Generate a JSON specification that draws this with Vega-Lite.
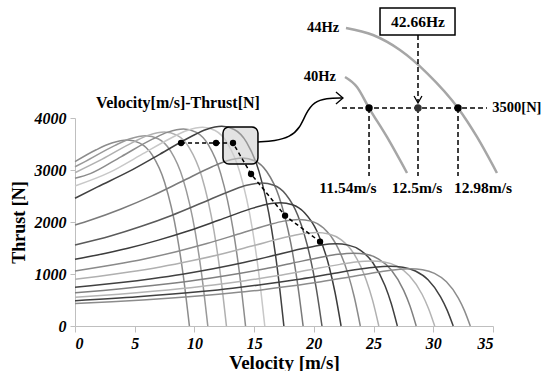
{
  "$schema": "https://vega.github.io/schema/vega-lite/v6.json",
  "autosize": {"type": "none"},
  "width": 418,
  "height": 208,
  "padding": {"left": 75, "top": 118, "right": 52, "bottom": 45},
  "background": "white",
  "config": {"view": {"stroke": null}},
  "resolve": {"scale": {"color": "independent"}},
  "datasets": {
    "curves": [
      {"f":24,"v":0,"t":3160},{"f":24,"v":1.78,"t":3389},{"f":24,"v":3.08,"t":3518},{"f":24,"v":4.38,"t":3575},{"f":24,"v":5.42,"t":3518},{"f":24,"v":6.46,"t":3289},{"f":24,"v":7.5,"t":2763},{"f":24,"v":8.54,"t":1748},{"f":24,"v":9.06,"t":980},{"f":24,"v":9.58,"t":0},
      {"f":28,"v":0,"t":3063},{"f":28,"v":0.72,"t":3148},{"f":28,"v":3.32,"t":3470},{"f":28,"v":4.62,"t":3601},{"f":28,"v":5.92,"t":3660},{"f":28,"v":6.96,"t":3601},{"f":28,"v":8.0,"t":3367},{"f":28,"v":9.04,"t":2829},{"f":28,"v":10.08,"t":1790},{"f":28,"v":10.6,"t":1003},{"f":28,"v":11.12,"t":0},
      {"f":32,"v":0,"t":2948},{"f":32,"v":2.28,"t":3208},{"f":32,"v":4.88,"t":3536},{"f":32,"v":6.18,"t":3670},{"f":32,"v":7.48,"t":3730},{"f":32,"v":8.52,"t":3670},{"f":32,"v":9.56,"t":3432},{"f":32,"v":10.6,"t":2883},{"f":32,"v":11.64,"t":1824},{"f":32,"v":12.16,"t":1022},{"f":32,"v":12.68,"t":0},
      {"f":36,"v":0,"t":2840},{"f":36,"v":1.28,"t":2930},{"f":36,"v":3.88,"t":3259},{"f":36,"v":6.48,"t":3593},{"f":36,"v":7.78,"t":3729},{"f":36,"v":9.08,"t":3790},{"f":36,"v":10.12,"t":3729},{"f":36,"v":11.16,"t":3487},{"f":36,"v":12.2,"t":2930},{"f":36,"v":13.24,"t":1853},{"f":36,"v":13.76,"t":1038},{"f":36,"v":14.28,"t":0},
      {"f":40,"v":0,"t":2692},{"f":40,"v":2.89,"t":2953},{"f":40,"v":5.49,"t":3285},{"f":40,"v":8.09,"t":3621},{"f":40,"v":9.39,"t":3759},{"f":40,"v":10.69,"t":3820},{"f":40,"v":11.73,"t":3759},{"f":40,"v":12.77,"t":3514},{"f":40,"v":13.81,"t":2953},{"f":40,"v":14.85,"t":1868},{"f":40,"v":15.37,"t":1047},{"f":40,"v":15.89,"t":0},
      {"f":44,"v":0,"t":2456},{"f":44,"v":1.89,"t":2676},{"f":44,"v":4.49,"t":2968},{"f":44,"v":7.09,"t":3302},{"f":44,"v":9.69,"t":3640},{"f":44,"v":10.99,"t":3779},{"f":44,"v":12.29,"t":3840},{"f":44,"v":13.33,"t":3779},{"f":44,"v":14.37,"t":3533},{"f":44,"v":15.41,"t":2968},{"f":44,"v":16.45,"t":1878},{"f":44,"v":16.97,"t":1052},{"f":44,"v":17.49,"t":0},
      {"f":48,"v":0,"t":1942},{"f":48,"v":1.32,"t":2038},{"f":48,"v":3.86,"t":2251},{"f":48,"v":6.4,"t":2497},{"f":48,"v":8.94,"t":2778},{"f":48,"v":11.48,"t":3062},{"f":48,"v":12.75,"t":3178},{"f":48,"v":14.02,"t":3230},{"f":48,"v":15.04,"t":3178},{"f":48,"v":16.05,"t":2972},{"f":48,"v":17.07,"t":2497},{"f":48,"v":18.08,"t":1579},{"f":48,"v":18.59,"t":885},{"f":48,"v":19.1,"t":0},
      {"f":52,"v":0,"t":1558},{"f":52,"v":3.04,"t":1735},{"f":52,"v":5.56,"t":1917},{"f":52,"v":8.08,"t":2126},{"f":52,"v":10.6,"t":2365},{"f":52,"v":13.12,"t":2607},{"f":52,"v":14.38,"t":2706},{"f":52,"v":15.64,"t":2750},{"f":52,"v":16.65,"t":2706},{"f":52,"v":17.66,"t":2530},{"f":52,"v":18.66,"t":2126},{"f":52,"v":19.67,"t":1345},{"f":52,"v":20.18,"t":754},{"f":52,"v":20.68,"t":0},
      {"f":56,"v":0,"t":1282},{"f":56,"v":1.88,"t":1365},{"f":56,"v":4.43,"t":1495},{"f":56,"v":6.98,"t":1652},{"f":56,"v":9.53,"t":1832},{"f":56,"v":12.08,"t":2038},{"f":56,"v":14.63,"t":2247},{"f":56,"v":15.9,"t":2332},{"f":56,"v":17.18,"t":2370},{"f":56,"v":18.2,"t":2332},{"f":56,"v":19.22,"t":2180},{"f":56,"v":20.24,"t":1832},{"f":56,"v":21.26,"t":1159},{"f":56,"v":21.77,"t":649},{"f":56,"v":22.28,"t":0},
      {"f":60,"v":0,"t":1058},{"f":60,"v":3.33,"t":1181},{"f":60,"v":5.9,"t":1294},{"f":60,"v":8.47,"t":1429},{"f":60,"v":11.04,"t":1585},{"f":60,"v":13.61,"t":1763},{"f":60,"v":16.18,"t":1943},{"f":60,"v":17.47,"t":2017},{"f":60,"v":18.75,"t":2050},{"f":60,"v":19.78,"t":2017},{"f":60,"v":20.81,"t":1886},{"f":60,"v":21.83,"t":1585},{"f":60,"v":22.86,"t":1002},{"f":60,"v":23.38,"t":562},{"f":60,"v":23.89,"t":0},
      {"f":64,"v":0,"t":898},{"f":64,"v":1.9,"t":952},{"f":64,"v":4.52,"t":1037},{"f":64,"v":7.14,"t":1136},{"f":64,"v":9.75,"t":1255},{"f":64,"v":12.37,"t":1391},{"f":64,"v":14.98,"t":1548},{"f":64,"v":17.6,"t":1706},{"f":64,"v":18.9,"t":1771},{"f":64,"v":20.21,"t":1800},{"f":64,"v":21.26,"t":1771},{"f":64,"v":22.3,"t":1656},{"f":64,"v":23.35,"t":1391},{"f":64,"v":24.39,"t":880},{"f":64,"v":24.92,"t":493},{"f":64,"v":25.44,"t":0},
      {"f":68,"v":0,"t":744},{"f":68,"v":1.29,"t":773},{"f":68,"v":3.86,"t":836},{"f":68,"v":6.43,"t":910},{"f":68,"v":9.0,"t":997},{"f":68,"v":11.57,"t":1101},{"f":68,"v":14.14,"t":1221},{"f":68,"v":16.71,"t":1359},{"f":68,"v":19.28,"t":1498},{"f":68,"v":20.57,"t":1555},{"f":68,"v":21.85,"t":1580},{"f":68,"v":22.88,"t":1555},{"f":68,"v":23.91,"t":1454},{"f":68,"v":24.93,"t":1221},{"f":68,"v":25.96,"t":773},{"f":68,"v":26.48,"t":433},{"f":68,"v":26.99,"t":0},
      {"f":72,"v":0,"t":640},{"f":72,"v":2.37,"t":685},{"f":72,"v":7.61,"t":806},{"f":72,"v":10.23,"t":883},{"f":72,"v":12.85,"t":976},{"f":72,"v":15.47,"t":1082},{"f":72,"v":18.09,"t":1204},{"f":72,"v":20.71,"t":1327},{"f":72,"v":22.02,"t":1378},{"f":72,"v":23.33,"t":1400},{"f":72,"v":24.38,"t":1378},{"f":72,"v":25.43,"t":1288},{"f":72,"v":26.47,"t":1082},{"f":72,"v":27.52,"t":685},{"f":72,"v":28.05,"t":384},{"f":72,"v":28.57,"t":0},
      {"f":76,"v":0,"t":552},{"f":76,"v":3.67,"t":611},{"f":76,"v":8.96,"t":720},{"f":76,"v":11.6,"t":789},{"f":76,"v":14.25,"t":871},{"f":76,"v":16.9,"t":966},{"f":76,"v":19.54,"t":1075},{"f":76,"v":22.19,"t":1185},{"f":76,"v":23.51,"t":1230},{"f":76,"v":24.83,"t":1250},{"f":76,"v":25.89,"t":1230},{"f":76,"v":26.95,"t":1150},{"f":76,"v":28.0,"t":966},{"f":76,"v":29.06,"t":611},{"f":76,"v":29.59,"t":343},{"f":76,"v":30.12,"t":0},
      {"f":80,"v":0,"t":487},{"f":80,"v":5.27,"t":562},{"f":80,"v":10.55,"t":662},{"f":80,"v":13.19,"t":726},{"f":80,"v":15.83,"t":802},{"f":80,"v":18.47,"t":889},{"f":80,"v":21.11,"t":989},{"f":80,"v":23.75,"t":1090},{"f":80,"v":25.07,"t":1132},{"f":80,"v":26.39,"t":1150},{"f":80,"v":27.45,"t":1132},{"f":80,"v":28.5,"t":1058},{"f":80,"v":29.56,"t":889},{"f":80,"v":30.61,"t":562},{"f":80,"v":31.14,"t":315},{"f":80,"v":31.67,"t":0},
      {"f":84,"v":0,"t":430},{"f":84,"v":3.1,"t":465},{"f":84,"v":8.1,"t":538},{"f":84,"v":13.1,"t":634},{"f":84,"v":15.6,"t":694},{"f":84,"v":18.1,"t":767},{"f":84,"v":20.6,"t":850},{"f":84,"v":23.1,"t":946},{"f":84,"v":25.6,"t":1043},{"f":84,"v":26.85,"t":1082},{"f":84,"v":28.1,"t":1100},{"f":84,"v":29.1,"t":1082},{"f":84,"v":30.1,"t":1012},{"f":84,"v":31.1,"t":850},{"f":84,"v":32.1,"t":538},{"f":84,"v":32.6,"t":301},{"f":84,"v":33.1,"t":0}
    ],
    "traj": [
      {"o":1,"v":8.88,"t":3519},{"o":2,"v":11.81,"t":3519},{"o":3,"v":13.23,"t":3519},{"o":4,"v":14.74,"t":2923},{"o":5,"v":17.59,"t":2121},{"o":6,"v":20.52,"t":1621}
    ],
    "inset": [
      {"c":"40Hz","o":1,"v":22.61,"t":4788},{"c":"40Hz","o":2,"v":23.61,"t":4596},{"c":"40Hz","o":3,"v":24.62,"t":4192},{"c":"40Hz","o":4,"v":26.12,"t":3635},{"c":"40Hz","o":5,"v":27.8,"t":2942},
      {"c":"44Hz","o":1,"v":22.69,"t":5731},{"c":"44Hz","o":2,"v":24.95,"t":5596},{"c":"44Hz","o":3,"v":27.21,"t":5308},{"c":"44Hz","o":4,"v":29.47,"t":4865},{"c":"44Hz","o":5,"v":32.07,"t":4192},{"c":"44Hz","o":6,"v":33.66,"t":3635},{"c":"44Hz","o":7,"v":35.33,"t":2942}
    ],
    "dashes": [
      {"x1":22.36,"y1":4192,"x2":34.5,"y2":4192},
      {"x1":24.62,"y1":4192,"x2":24.62,"y2":2885},
      {"x1":28.72,"y1":4192,"x2":28.72,"y2":2885},
      {"x1":32.07,"y1":4192,"x2":32.07,"y2":2885},
      {"x1":28.72,"y1":5596,"x2":28.72,"y2":4308}
    ],
    "insetPts": [
      {"v":24.62,"t":4192,"k":"a"},{"v":28.72,"t":4192,"k":"b"},{"v":32.07,"t":4192,"k":"a"}
    ],
    "curveArrow": [
      {"o":1,"v":15.32,"t":3538},{"o":2,"v":16.75,"t":3558},{"o":3,"v":18.0,"t":3635},{"o":4,"v":18.84,"t":3808},{"o":5,"v":19.34,"t":4096},{"o":6,"v":20.01,"t":4308},{"o":7,"v":21.02,"t":4385},{"o":8,"v":22.44,"t":4385}
    ],
    "chevrons": [
      {"g":1,"o":1,"v":21.85,"t":4500},{"g":1,"o":2,"v":22.44,"t":4385},{"g":1,"o":3,"v":21.85,"t":4269},
      {"g":2,"o":1,"v":28.39,"t":4423},{"g":2,"o":2,"v":28.72,"t":4288},{"g":2,"o":3,"v":29.05,"t":4423}
    ],
    "texts": [
      {"s":"Velocity[m/s]-Thrust[N]","v":8.62,"t":4288,"z":16},
      {"s":"44Hz","v":20.77,"t":5731,"z":14.5},
      {"s":"40Hz","v":20.51,"t":4788,"z":14.5},
      {"s":"42.66Hz","v":28.72,"t":5846,"z":15.5},
      {"s":"3500[N]","v":37.0,"t":4192,"z":14.5},
      {"s":"11.54m/s","v":22.86,"t":2654,"z":15.5},
      {"s":"12.5m/s","v":28.64,"t":2654,"z":15.5},
      {"s":"12.98m/s","v":34.16,"t":2654,"z":15.5}
    ]
  },
  "layer": [
    {
      "data": {"name": "curves"},
      "mark": {"type": "line", "strokeWidth": 1.5, "interpolate": "monotone"},
      "encoding": {
        "x": {"field": "v", "type": "quantitative", "scale": {"domain": [0, 35], "nice": false},
          "axis": {"values": [0,5,10,15,20,25,30,35], "grid": false, "domainColor": "#bfbfbf", "tickColor": "#bfbfbf", "tickSize": 6,
            "labelFont": "Liberation Serif", "labelFontSize": 16, "labelFontWeight": "bold", "labelFontStyle": "italic", "labelColor": "#000", "labelPadding": 3,
            "title": "Velocity [m/s]", "titleFont": "Liberation Serif", "titleFontSize": 19, "titleFontWeight": "bold", "titleColor": "#000", "titlePadding": 2}},
        "y": {"field": "t", "type": "quantitative", "scale": {"domain": [0, 4000], "nice": false},
          "axis": {"values": [0,1000,2000,3000,4000], "format": "d", "grid": false, "domainColor": "#bfbfbf", "tickColor": "#bfbfbf", "tickSize": 5,
            "labelFont": "Liberation Serif", "labelFontSize": 16, "labelFontWeight": "bold", "labelFontStyle": "italic", "labelColor": "#000", "labelPadding": 4,
            "title": "Thrust [N]", "titleFont": "Liberation Serif", "titleFontSize": 18, "titleFontWeight": "bold", "titleColor": "#000", "titlePadding": 6}},
        "color": {"field": "f", "type": "nominal", "legend": null,
          "scale": {"domain": [24,28,32,36,40,44,48,52,56,60,64,68,72,76,80,84],
            "range": ["#8c8c8c","#999999","#b0b0b0","#8c8c8c","#c8c8c8","#404040","#7a7a7a","#5a5a5a","#3c3c3c","#8a8a8a","#b0b0b0","#404040","#808080","#b4b4b4","#404040","#8c8c8c"]}}
      }
    },
    {
      "data": {"values": [{"x1":12.39,"x2":15.32,"y1":3115,"y2":3827}]},
      "mark": {"type": "rect", "cornerRadius": 6, "fill": "#d0d0d0", "fillOpacity": 0.6, "stroke": "#000", "strokeWidth": 1.5},
      "encoding": {"x": {"field": "x1", "type": "quantitative"}, "x2": {"field": "x2"}, "y": {"field": "y1", "type": "quantitative"}, "y2": {"field": "y2"}}
    },
    {
      "data": {"name": "traj"},
      "mark": {"type": "line", "color": "#000", "strokeWidth": 1.5, "strokeDash": [4, 3]},
      "encoding": {"x": {"field": "v", "type": "quantitative"}, "y": {"field": "t", "type": "quantitative"}, "order": {"field": "o"}}
    },
    {
      "data": {"name": "traj"},
      "mark": {"type": "point", "filled": true, "color": "#000", "size": 40, "opacity": 1},
      "encoding": {"x": {"field": "v", "type": "quantitative"}, "y": {"field": "t", "type": "quantitative"}}
    },
    {
      "data": {"name": "inset"},
      "mark": {"type": "line", "color": "#a6a6a6", "strokeWidth": 2.5, "interpolate": "monotone"},
      "encoding": {"x": {"field": "v", "type": "quantitative"}, "y": {"field": "t", "type": "quantitative"}, "detail": {"field": "c"}, "order": {"field": "o"}}
    },
    {
      "data": {"name": "dashes"},
      "mark": {"type": "rule", "color": "#000", "strokeWidth": 1.5, "strokeDash": [5, 3]},
      "encoding": {"x": {"field": "x1", "type": "quantitative"}, "y": {"field": "y1", "type": "quantitative"}, "x2": {"field": "x2"}, "y2": {"field": "y2"}}
    },
    {
      "data": {"name": "insetPts"},
      "mark": {"type": "point", "filled": true, "size": 55, "opacity": 1},
      "encoding": {"x": {"field": "v", "type": "quantitative"}, "y": {"field": "t", "type": "quantitative"},
        "color": {"field": "k", "type": "nominal", "legend": null, "scale": {"domain": ["a","b"], "range": ["#000000","#333333"]}}}
    },
    {
      "data": {"values": [{"x1":25.54,"x2":31.82,"y1":5596,"y2":6115}]},
      "mark": {"type": "rect", "fill": "#ffffff", "stroke": "#000", "strokeWidth": 1.5},
      "encoding": {"x": {"field": "x1", "type": "quantitative"}, "x2": {"field": "x2"}, "y": {"field": "y1", "type": "quantitative"}, "y2": {"field": "y2"}}
    },
    {
      "data": {"name": "curveArrow"},
      "mark": {"type": "line", "color": "#000", "strokeWidth": 1.5, "interpolate": "basis"},
      "encoding": {"x": {"field": "v", "type": "quantitative"}, "y": {"field": "t", "type": "quantitative"}, "order": {"field": "o"}}
    },
    {
      "data": {"name": "chevrons"},
      "mark": {"type": "line", "color": "#000", "strokeWidth": 1.3},
      "encoding": {"x": {"field": "v", "type": "quantitative"}, "y": {"field": "t", "type": "quantitative"}, "detail": {"field": "g"}, "order": {"field": "o"}}
    },
    {
      "data": {"name": "texts"},
      "mark": {"type": "text", "font": "Liberation Serif", "fontWeight": "bold", "color": "#000", "align": "center", "baseline": "middle"},
      "encoding": {"x": {"field": "v", "type": "quantitative"}, "y": {"field": "t", "type": "quantitative"}, "text": {"field": "s"}, "size": {"field": "z", "type": "quantitative", "scale": null}}
    }
  ]
}
